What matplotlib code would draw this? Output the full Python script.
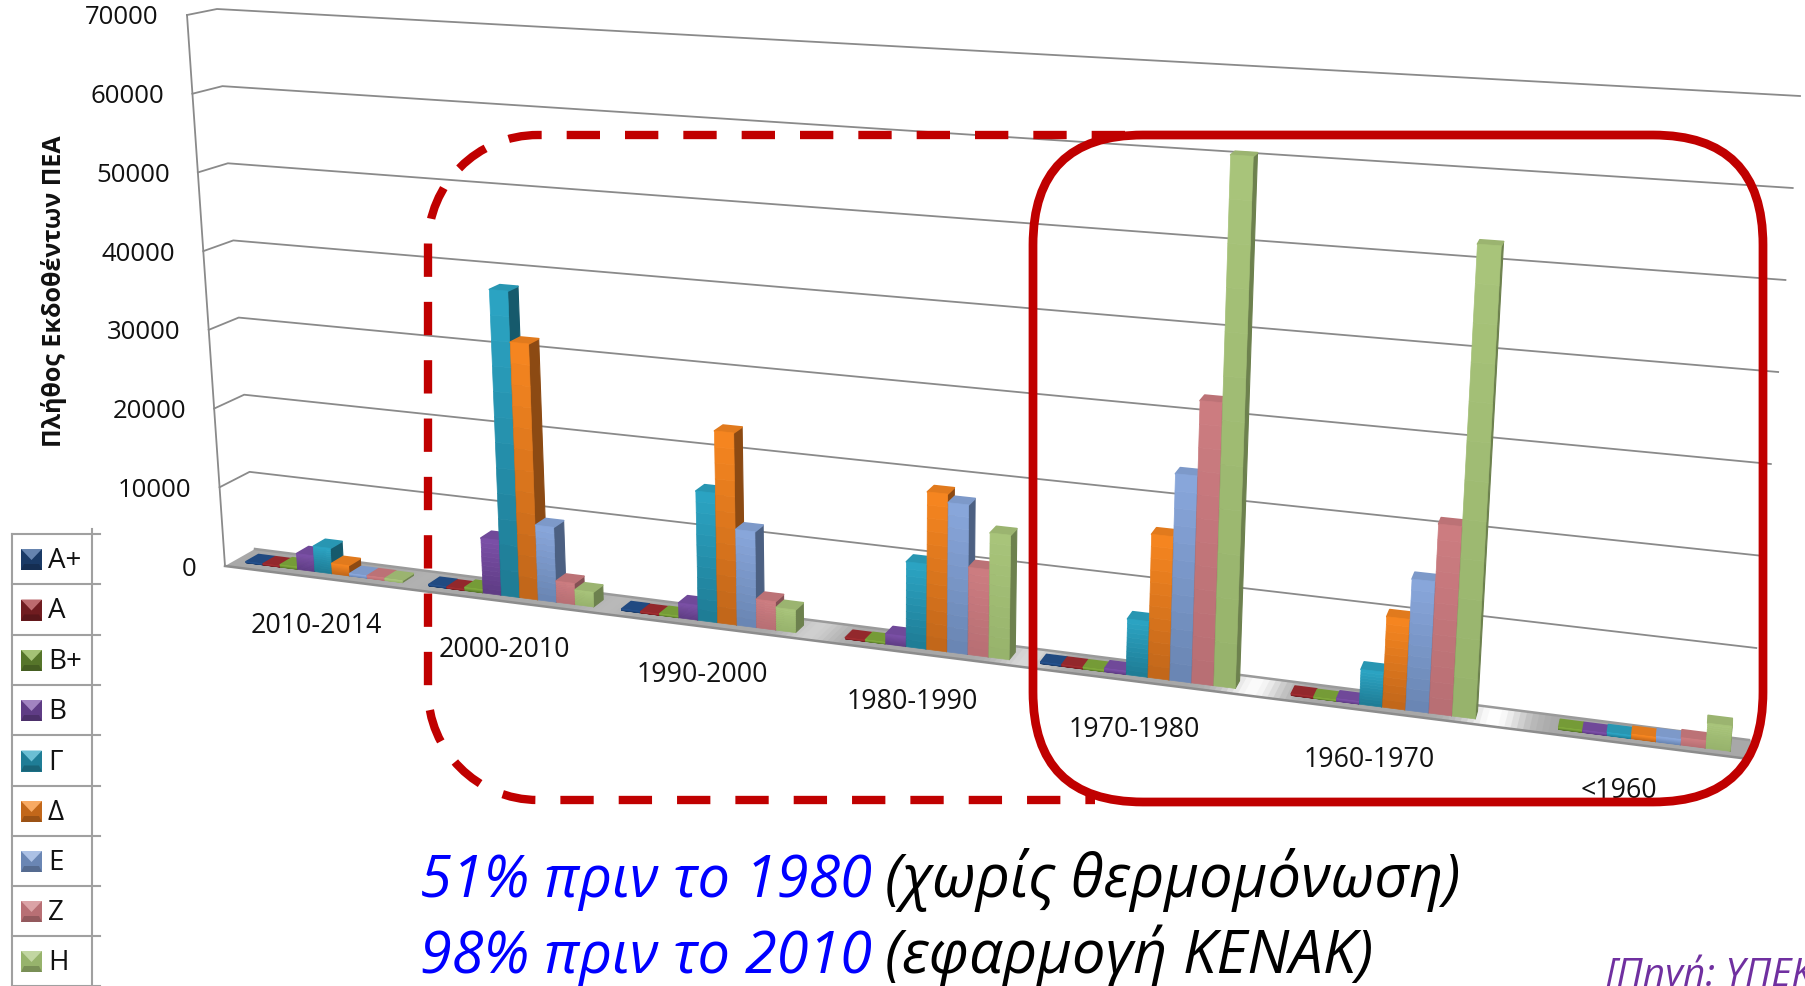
import numpy as np
import matplotlib
matplotlib.use("Agg")
import matplotlib.pyplot as plt
from matplotlib.patches import FancyBboxPatch, PathPatch
from matplotlib.path import Path

plt.rcParams['font.family'] = ['Open Sans', 'DejaVu Sans']

# Δεδομενα
categories = ['2010-2014', '2000-2010', '1990-2000', '1980-1990', '1970-1980', '1960-1970', '<1960']
series_names = ['A+', 'A', 'B+', 'B', 'Γ', 'Δ', 'Ε', 'Ζ', 'Η']
a_plus = [150, 200, 200, 0, 200, 0, 0]
a_cls = [150, 150, 150, 150, 200, 200, 0]
b_plus = [300, 400, 200, 200, 200, 150, 250]
b_cls = [2000, 6800, 1800, 1200, 400, 300, 250]
gamma = [3200, 37800, 15600, 10000, 6400, 3900, 350]
delta = [1300, 31500, 23100, 18500, 16400, 10100, 500]
e_cls = [300, 9200, 11500, 17500, 23600, 14600, 600]
z_cls = [300, 2600, 3400, 10200, 32200, 21000, 800]
h_cls = [250, 1800, 2700, 14500, 60400, 52300, 2700]
all_series = [a_plus, a_cls, b_plus, b_cls, gamma, delta, e_cls, z_cls, h_cls]
y_ticks = [0, 10000, 20000, 30000, 40000, 50000, 60000, 70000]

# χρωματα: πανω / κατω
top_colors = ['#24508c', '#a02c30', '#7fa83c', '#7a4fa6', '#2ba3c2', '#f58520', '#88a6da', '#cc7c80', '#a8c47a']
bottom_colors = ['#1a3a66', '#701c20', '#56752a', '#5f3c85', '#1f7d96', '#c2671a', '#6a86b4', '#b86f74', '#97b36c']

Y_MAX = 70000.0
BL, BR = np.array([255.0, 550.0]), np.array([1749.0, 741.0])
TL, TR = np.array([217.0, 10.0]), np.array([1800.0, 97.0])
K = 1.22  # προοπτικη κατα μηκος


def project(t, depth, value):
    # t: 0-1 κατα μηκος, depth: 0 πισω - 1 μπροστα
    v = value / Y_MAX
    left = BL + (TL - BL) * v + depth * np.array([-30.0, 17.0 - 11.0 * v])
    right = BR + (TR - BR) * v + depth * np.array([0.0, 19.0 - 11.0 * v])
    f = t / (K - (K - 1) * t)
    return left + (right - left) * f


def blend(c1, c2, a):
    c1, c2 = np.array(matplotlib.colors.to_rgb(c1)), np.array(matplotlib.colors.to_rgb(c2))
    return tuple(c1 + (c2 - c1) * a)


def shade(c, k):
    return tuple(np.clip(np.array(matplotlib.colors.to_rgb(c)) * k, 0, 1))


fig = plt.figure(figsize=(18.06, 9.87), dpi=100)
ax = fig.add_axes([0, 0, 1, 1])
ax.set_xlim(0, 1806)
ax.set_ylim(987, 0)
ax.axis('off')

# Πλεγμα
for val in y_ticks[1:]:
    pts = np.array([project(0, 1, val), project(0, 0, val), project(1, 0, val)])
    ax.plot(pts[:, 0], pts[:, 1], color='#8a8a8a', lw=1.3, zorder=1)
left_edge = np.array([project(0, 1, 0), project(0, 1, Y_MAX)])
ax.plot(left_edge[:, 0], left_edge[:, 1], color='#8a8a8a', lw=1.3, zorder=1)

# Δαπεδο με λαμψεις αναμεσα στις ομαδες
ts = np.linspace(0, 1, 281)
glow = [0.1, 0.2, 0.45, 0.55, 0.95, 1.0]
for a, b in zip(ts[:-1], ts[1:]):
    mid = (a + b) / 2
    g = sum(s * np.exp(-((mid - (i + 1) / 7) / 0.018) ** 2) for i, s in enumerate(glow))
    col = blend('#a8a8a8', '#ffffff', min(g, 1))
    poly = [project(a, 0, 0), project(b + 0.001, 0, 0), project(b + 0.001, 1, 0), project(a, 1, 0)]
    ax.fill(*zip(*poly), color=col, lw=0, zorder=2)
for d, c in [(1, '#8c8c8c'), (0, '#9a9a9a')]:
    edge = np.array([project(0, d, 0), project(1, d, 0)])
    ax.plot(edge[:, 0], edge[:, 1], color=c, lw=1.8, zorder=2)

# Στηλες
pitch = 0.86 / (7 * 9)
for i in range(len(categories)):
    center = (i + 0.5) / 7
    for j, values in enumerate(all_series):
        val = values[i]
        if val == 0:
            continue
        t0 = center + (j - 4.5) * pitch + 0.015 * pitch
        t1 = t0 + 0.97 * pitch
        d0, d1 = 0.3, 0.72
        z = 3 + i + j * 0.05
        # πλαινη
        side = [project(t1, d1, 0), project(t1, d0, 0), project(t1, d0, val), project(t1, d1, val)]
        ax.fill(*zip(*side), color=shade(bottom_colors[j], 0.72), lw=0.8, joinstyle='round', zorder=z)
        # πανω
        top = [project(t0, d1, val), project(t1, d1, val), project(t1, d0, val), project(t0, d0, val)]
        ax.fill(*zip(*top), color=shade(top_colors[j], 0.92), lw=1.2, joinstyle='round', zorder=z)
        # μπροστα σε λωριδες
        levels = np.linspace(0, val, 13)
        for k, (lo, hi) in enumerate(zip(levels[:-1], levels[1:])):
            col = blend(bottom_colors[j], top_colors[j], k / 11)
            face = [project(t0, d1, lo), project(t1, d1, lo), project(t1, d1, hi), project(t0, d1, hi)]
            ax.fill(*zip(*face), color=col, lw=0.5, zorder=z + 0.01)

# Ετικετες αξονα
for val in y_ticks:
    x, y = project(0, 1, val)
    ax.text(x - 28, y + 2, str(val), ha='right', va='center', fontsize=18.5, color='#111111', zorder=20)
for i, name in enumerate(categories):
    x, y = project((i + 0.5) / 7, 1, 0)
    ax.text(x + 1, y + 48, name, ha='center', va='center', fontsize=19.3, color='#111111', zorder=20)
ax.text(54, 291, 'Πλήθος Εκδοθέντων ΠΕΑ', rotation=90, ha='center', va='center',
        fontsize=18, fontweight='bold', color='#111111', zorder=20)

# Πινακας υπομνηματος
row_edges = [535, 585, 636, 686, 736, 787, 837, 887, 937, 987]
for y in row_edges:
    ax.plot([12, 100], [y, y], color='#a0a0a0', lw=1.5, zorder=1)
ax.plot([12, 12], [535, 987], color='#a0a0a0', lw=1.5, zorder=1)
ax.plot([92, 92], [530, 987], color='#a0a0a0', lw=1.5, zorder=1)
for j, name in enumerate(series_names):
    yc = (row_edges[j] + row_edges[j + 1]) / 2 + 1
    x0, x1, y0, y1 = 21, 42, yc - 11, yc + 10
    xm = (x0 + x1) / 2
    ax.fill([x0, x1, x1, x0], [y0, y0, y1, y1], color=bottom_colors[j], lw=0, zorder=5)
    ax.fill([x0, x1, x1 - 3, x0 + 3], [y1, y1, y1 - 6, y1 - 6], color=shade(bottom_colors[j], 0.8), lw=0, zorder=5)
    ax.fill([x0, x1, xm], [y0, y0, y0 + 11], color=blend(top_colors[j], '#ffffff', 0.3), lw=0, zorder=5)
    ax.text(48, yc, name, ha='left', va='center', fontsize=20, color='#111111', zorder=20)

# Κοκκινα πλαισια
RED = '#c00000'
solid = FancyBboxPatch((1143, 246), 510, 447, boxstyle='round,pad=110,rounding_size=110',
                       fc='none', ec=RED, lw=6.3, zorder=30)
ax.add_patch(solid)
xl, yt, yb, r = 428, 136, 801, 110
c = 0.5523 * r
verts = [(1125, yt), (xl + r, yt),
         (xl + r - c, yt), (xl, yt + r - c), (xl, yt + r),
         (xl, yb - r),
         (xl, yb - r + c), (xl + r - c, yb), (xl + r, yb),
         (1095, yb)]
codes = [Path.MOVETO, Path.LINETO, Path.CURVE4, Path.CURVE4, Path.CURVE4, Path.LINETO,
         Path.CURVE4, Path.CURVE4, Path.CURVE4, Path.LINETO]
ax.add_patch(PathPatch(Path(verts, codes), fc='none', ec=RED, lw=6.0,
                       linestyle=(0, (4, 3)), capstyle='butt', zorder=29))

# Κειμενα
lines = [(420, 897, '51% πριν το 1980', '(χωρίς θερμομόνωση)'),
         (420, 973, '98% πριν το 2010', '(εφαρμογή ΚΕΝΑΚ)')]
renderer = fig.canvas.get_renderer()
for x, y, blue, black in lines:
    t1 = ax.text(x, y, blue, color='#0000ff', style='italic', fontsize=41.5, va='baseline', zorder=20)
    x2 = t1.get_window_extent(renderer).x1
    ax.text(x2 + 13, y, black, color='black', style='italic', fontsize=43, va='baseline', zorder=20)
ax.text(1605, 986, '[Πηγή: ΥΠΕΚ', color='#7030a0', style='italic', fontsize=28, va='baseline', zorder=20)

fig.savefig('out.png', dpi=100)
